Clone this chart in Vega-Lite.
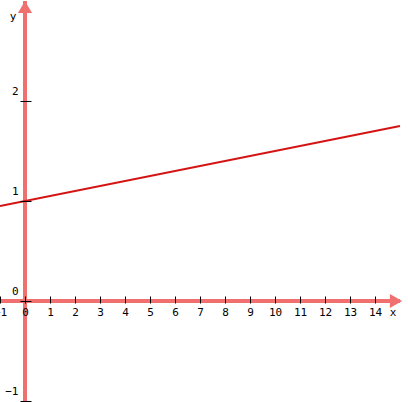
{
  "$schema": "https://vega.github.io/schema/vega-lite/v6.json",
  "width": 400,
  "height": 400,
  "autosize": {"type": "none"},
  "padding": {"left": 0, "top": 1, "right": 8, "bottom": 1},
  "background": "white",
  "config": {
    "view": {"stroke": null},
    "axis": {"labelOverlap": false, "labelFlush": false, "labelBound": false, "labelSeparation": 0},
    "axisX": {"labelOverlap": false},
    "axisQuantitative": {"labelOverlap": false}
  },
  "datasets": {
    "line": [{"x": -1, "y": 0.95}, {"x": 15, "y": 1.75}],
    "axes": [{"x": 0, "y": 0}],
    "arrows": [{"x": 0, "y": 2.94, "shape": "triangle-up"}, {"x": 14.84, "y": 0, "shape": "triangle-right"}],
    "titles": [{"x": 14.72, "y": -0.12, "label": "x"}, {"x": -0.48, "y": 2.84, "label": "y"}]
  },
  "layer": [
    {
      "data": {"name": "axes"},
      "mark": {"type": "rule", "color": "#f07070", "strokeWidth": 4},
      "encoding": {"y": {"field": "y", "type": "quantitative"}}
    },
    {
      "data": {"name": "axes"},
      "mark": {"type": "rule", "color": "#f07070", "strokeWidth": 4},
      "encoding": {"x": {"field": "x", "type": "quantitative"}}
    },
    {
      "data": {"name": "arrows"},
      "mark": {"type": "point", "filled": true, "color": "#f07070", "size": 200, "opacity": 1},
      "encoding": {
        "x": {"field": "x", "type": "quantitative"},
        "y": {"field": "y", "type": "quantitative"},
        "shape": {"field": "shape", "type": "nominal", "scale": null, "legend": null}
      }
    },
    {
      "data": {"name": "line"},
      "mark": {"type": "line", "color": "#d41414", "strokeWidth": 2},
      "encoding": {
        "x": {
          "field": "x", "type": "quantitative",
          "scale": {"domain": [-1, 15], "nice": false, "zero": false},
          "axis": {
            "orient": "bottom", "offset": -105, "domain": false, "grid": false,
            "values": [-1, 0, 1, 2, 3, 4, 5, 6, 7, 8, 9, 10, 11, 12, 13, 14],
            "tickCount": 16,
            "format": "d", "labelOverlap": false,
            "tickSize": 7, "tickColor": "black", "tickWidth": 1,
            "labelPadding": 3, "labelFont": "DejaVu Sans Mono", "labelFontSize": 11,
            "labelColor": "black",
            "title": null, "zindex": 1
          }
        },
        "y": {
          "field": "y", "type": "quantitative",
          "scale": {"domain": [-1, 3], "nice": false, "zero": false},
          "axis": {
            "orient": "left", "offset": -20, "domain": false, "grid": false,
            "values": [-1, 0, 1, 2],
            "format": "d",
            "tickSize": -11, "tickColor": "black", "tickWidth": 1,
            "labelPadding": 13, "labelFont": "DejaVu Sans Mono", "labelFontSize": 11,
            "labelColor": "black", "labelBaseline": "bottom", "labelOffset": -5,
            "title": null, "zindex": 1
          }
        }
      }
    },
    {
      "data": {"name": "titles"},
      "mark": {"type": "text", "font": "DejaVu Sans Mono", "fontSize": 11, "color": "black", "align": "center", "baseline": "middle"},
      "encoding": {
        "x": {"field": "x", "type": "quantitative"},
        "y": {"field": "y", "type": "quantitative"},
        "text": {"field": "label"}
      }
    }
  ]
}
